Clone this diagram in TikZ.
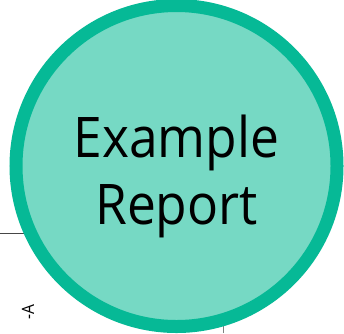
\documentclass[tikz,border=0pt]{standalone}
\usepackage{fontspec}
\setmainfont{Open Sans}[FakeStretch=0.92]
\usepackage{xcolor}
\usetikzlibrary{backgrounds}
\definecolor{ringgreen}{RGB}{6,185,150}
\definecolor{fillgreen}{RGB}{118,217,196}
\definecolor{linegray}{RGB}{70,70,70}

\begin{document}
\begin{tikzpicture}[x=1pt,y=-1pt]
	\useasboundingbox (0,0) rectangle (344,333);
	\node[circle,draw=ringgreen,fill=fillgreen,line width=13pt,minimum size=321pt,inner sep=0pt] (report) at (176.5,166) {};
	\node[align=center,inner sep=0pt,font={\fontsize{56}{67}\selectfont}] (reportText) at ([yshift=-10pt]report.center) {Example\\Report};
	\coordinate (lnA) at (0,233.5);
	\coordinate (lnB) at (223.5,333);
	\node[rotate=90,anchor=east,font={\fontsize{17}{18}\selectfont},inner sep=0pt] (labA) at (28,304) {-A};
	\begin{scope}[on background layer]
		\draw[linegray,line width=1.2pt] (lnA) -- (lnA -| report.center);
		\draw[gray,line width=1.5pt] (lnB) -- (lnB |- report.center);
	\end{scope}
\end{tikzpicture}
\end{document}
